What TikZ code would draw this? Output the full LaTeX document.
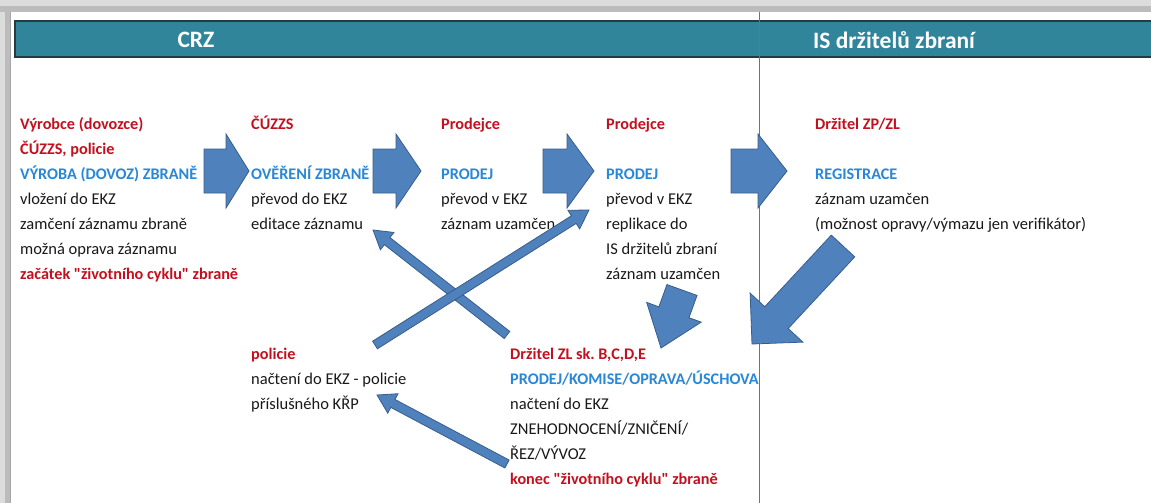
\documentclass[tikz,border=0pt]{standalone}
\usepackage{fontspec}
\setmainfont{Carlito}[Ligatures=TeXOff]
\usetikzlibrary{calc}
\definecolor{teal1}{RGB}{49,133,155}
\definecolor{barline}{RGB}{38,58,64}
\definecolor{afill}{RGB}{79,129,189}
\definecolor{aline}{RGB}{56,93,138}
\definecolor{tred}{RGB}{196,16,30}
\definecolor{tblue}{RGB}{40,135,215}
\definecolor{tblack}{RGB}{25,25,25}
\definecolor{vlinec}{RGB}{79,120,180}
\definecolor{gA}{RGB}{220,220,220}
\definecolor{gB}{RGB}{188,188,188}
\tikzset{
 txt/.style={anchor=base west, inner sep=0pt, font=\fontsize{16.5}{18}\selectfont, text=tblack},
 rd/.style={text=tred, font=\fontsize{16.2}{18}\selectfont\bfseries},
 bl/.style={text=tblue, font=\fontsize{16.2}{18}\selectfont\bfseries},
 arr/.style={fill=afill, draw=aline, line width=0.8pt, line join=miter},
 hdr/.style={text=white, font=\fontsize{23.5}{26}\selectfont\bfseries, inner sep=0pt}
}
\newcommand\tline[5]{\node[txt,#4] (#1) at (#2,#3) {#5};}
\newcommand\barrow[5]{%
 \coordinate (#2h) at ($(#2)!#5!(#1)$);
 \draw[arr] ($(#1)!#3!90:(#2)$) -- ($(#2h)!#3!90:(#2)$) -- ($(#2h)!#4!90:(#2)$) -- (#2) -- ($(#2h)!#4!-90:(#2)$) -- ($(#2h)!#3!-90:(#2)$) -- ($(#1)!#3!-90:(#2)$) -- cycle;}
\begin{document}
\frenchspacing
\begin{tikzpicture}[x=1pt,y=-1pt]
\useasboundingbox (0,0) rectangle (1151,503);
% frame
\fill[gA] (0,0) rectangle (1151,503);
\fill[gA] (0,0) rectangle (1151,6);
\fill[gB] (0,6) rectangle (1151,12);
\fill[gB] (5,6) rectangle (10,503);
\fill[white] (10,12) rectangle (1151,503);
\draw[gray!70, line width=0.8pt] (10,12) -- (10,503);
% header bar
\fill[teal1] (15,21) rectangle (1151,57);
\draw[barline, line width=1.2pt] (1151,21) -- (15,21) -- (15,57) -- (1151,57);
\draw[barline, line width=1.0pt] (15,56.2) -- (1151,56.2);
\node[hdr] (hcrz) at (196,40) {CRZ};
\node[hdr] (his) at (894,40) {IS držitelů zbraní};
% divider
\draw[vlinec, line width=0.9pt] (759,12) -- (759,503);
% block 1
\tline{b1a}{20}{129}{rd}{Výrobce (dovozce)}
\tline{b1b}{20}{154.1}{rd}{ČÚZZS, policie}
\tline{b1c}{20}{179.2}{bl}{VÝROBA (DOVOZ) ZBRANĚ}
\tline{b1d}{20}{204.3}{}{vložení do EKZ}
\tline{b1e}{20}{229.4}{}{zamčení záznamu zbraně}
\tline{b1f}{20}{254.5}{}{možná oprava záznamu}
\tline{b1g}{20}{279.6}{rd}{začátek "životního cyklu" zbraně}
% block 2
\tline{b2a}{251}{129}{rd}{ČÚZZS}
\tline{b2c}{251}{179.2}{bl}{OVĚŘENÍ ZBRANĚ}
\tline{b2d}{251}{204.3}{}{převod do EKZ}
\tline{b2e}{251}{229.4}{}{editace záznamu}
% block 3
\tline{b3a}{441}{129}{rd}{Prodejce}
\tline{b3c}{441}{179.2}{bl}{PRODEJ}
\tline{b3d}{441}{204.3}{}{převod v EKZ}
\tline{b3e}{441}{229.4}{}{záznam uzamčen}
% block 4
\tline{b4a}{606}{129}{rd}{Prodejce}
\tline{b4c}{606}{179.2}{bl}{PRODEJ}
\tline{b4d}{606}{204.3}{}{převod v EKZ}
\tline{b4e}{606}{229.4}{}{replikace do}
\tline{b4f}{606}{254.5}{}{IS držitelů zbraní}
\tline{b4g}{606}{279.6}{}{záznam uzamčen}
% block 5
\tline{b5a}{815}{129}{rd}{Držitel ZP/ZL}
\tline{b5c}{815}{179.2}{bl}{REGISTRACE}
\tline{b5d}{815}{204.3}{}{záznam uzamčen}
\tline{b5e}{815}{229.4}{}{(možnost opravy/výmazu jen verifikátor)}
% block 6
\tline{b6a}{251}{359}{rd}{policie}
\tline{b6b}{251}{384.1}{}{načtení do EKZ - policie}
\tline{b6c}{251}{409.2}{}{příslušného KŘP}
% block 7
\tline{b7a}{510}{359}{rd}{Držitel ZL sk. B,C,D,E}
\tline{b7b}{510}{384.1}{bl}{PRODEJ/KOMISE/OPRAVA/ÚSCHOVA}
\tline{b7c}{510}{409.2}{}{načtení do EKZ}
\tline{b7d}{510}{434.3}{}{ZNEHODNOCENÍ/ZNIČENÍ/}
\tline{b7e}{510}{459.4}{}{ŘEZ/VÝVOZ}
\tline{b7f}{510}{484.5}{rd}{konec "životního cyklu" zbraně}
% arrow end points
\coordinate (a1t) at (204,171); \coordinate (a1p) at (249,171);
\coordinate (a2t) at (373,171); \coordinate (a2p) at (421,171);
\coordinate (a3t) at (543,171); \coordinate (a3p) at (594,171);
\coordinate (a4t) at (731,171); \coordinate (a4p) at (787,171);
\coordinate (t1t) at (507,335); \coordinate (t1p) at (373,230);
\coordinate (t2t) at (375,345); \coordinate (t2p) at (589,210);
\coordinate (t3t) at (507,464); \coordinate (t3p) at (377,395);
\coordinate (d1t) at (682,290); \coordinate (d1p) at (661,348);
\coordinate (d2t) at (843,246); \coordinate (d2p) at (752,344);
% block arrows
\barrow{a1t}{a1p}{22pt}{37pt}{23pt}
\barrow{a2t}{a2p}{22pt}{37pt}{25pt}
\barrow{a3t}{a3p}{22pt}{37pt}{27pt}
\barrow{a4t}{a4p}{22pt}{37pt}{29pt}
\barrow{t1t}{t1p}{4.5pt}{11pt}{18pt}
\barrow{t2t}{t2p}{4.5pt}{11pt}{18pt}
\barrow{t3t}{t3p}{4.5pt}{11pt}{18pt}
\barrow{d1t}{d1p}{16pt}{29pt}{38pt}
\barrow{d2t}{d2p}{16pt}{36pt}{36pt}
\end{tikzpicture}
\end{document}
